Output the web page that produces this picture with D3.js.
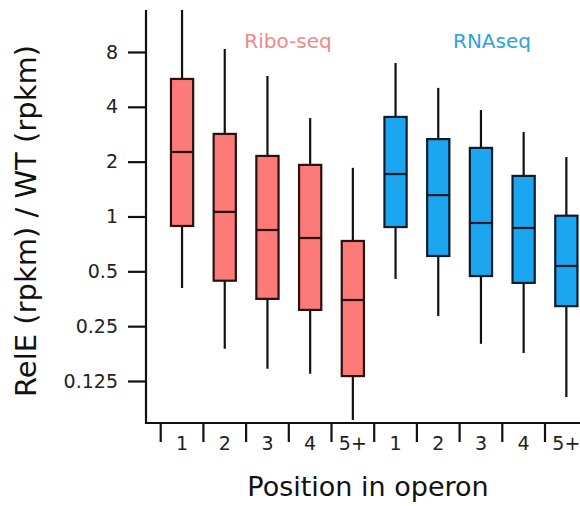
<!DOCTYPE html>
<html lang="en">

<head>
    <meta charset="UTF-8">
    <title>RelE / WT by position in operon</title>
    <script src="https://d3js.org/d3.v7.min.js"></script>
    <style>
        body {
            margin: 0;
            font-family: "DejaVu Sans", sans-serif;
            background: white;
        }
    </style>
</head>

<body>
    <svg width="580" height="506"></svg>

    <script>
        // positions in operon (same for both series)
        const positions = ["1", "2", "3", "4", "5+"];
        const yTicks = [0.125, 0.25, 0.5, 1, 2, 4, 8];

        // Ribo-seq box stats: whisker low, Q1, median, Q3, whisker high
        const riboLow = [0.405, 0.188, 0.146, 0.137, 0.0764];
        const riboQ1 = [0.887, 0.444, 0.353, 0.307, 0.133];
        const riboMedian = [2.26, 1.06, 0.843, 0.762, 0.348];
        const riboQ3 = [5.69, 2.84, 2.15, 1.92, 0.734];
        const riboHigh = [14, 8.31, 5.91, 3.47, 1.85];

        // RNAseq box stats
        const rnaLow = [0.454, 0.284, 0.200, 0.178, 0.102];
        const rnaQ1 = [0.875, 0.607, 0.471, 0.432, 0.322];
        const rnaMedian = [1.71, 1.31, 0.921, 0.865, 0.535];
        const rnaQ3 = [3.52, 2.66, 2.38, 1.67, 1.01];
        const rnaHigh = [6.96, 5.08, 3.84, 2.91, 2.12];

        const series = [
            { name: "Ribo-seq", key: "ribo", fill: "#fc7a77", stroke: "#2a1010", text: "#f2878b",
              low: riboLow, q1: riboQ1, med: riboMedian, q3: riboQ3, high: riboHigh },
            { name: "RNAseq", key: "rna", fill: "#1ba6ef", stroke: "#0c1c2c", text: "#2aa3dd",
              low: rnaLow, q1: rnaQ1, med: rnaMedian, q3: rnaQ3, high: rnaHigh }
        ];

        // flatten into one row per box
        const boxes = [];
        series.forEach(s => {
            positions.forEach((p, i) => {
                boxes.push({
                    id: s.key + p, label: p, s: s,
                    low: s.low[i], q1: s.q1[i], med: s.med[i], q3: s.q3[i], high: s.high[i]
                });
            });
        });

        const svg = d3.select("svg");
        const axisX = 146, axisTop = 10, axisBottom = 423;

        const x = d3.scaleBand()
            .domain(boxes.map(d => d.id))
            .range([160.7, 160.7 + 42.7 * boxes.length])
            .padding(0);

        const y = d3.scaleLog().base(2)
            .domain([0.0735, 13.6])
            .range([axisBottom, axisTop]);

        const plot = svg.append("g");
        const boxW = x.bandwidth() * 0.52;

        // clip so whiskers don't run past the axis top
        svg.append("clipPath").attr("id", "clip")
            .append("rect").attr("x", axisX).attr("y", axisTop)
            .attr("width", 600).attr("height", axisBottom - axisTop);
        plot.attr("clip-path", "url(#clip)");

        const g = plot.selectAll(".box")
            .data(boxes)
            .enter().append("g")
            .attr("class", "box")
            .attr("transform", d => `translate(${x(d.id) + x.bandwidth() / 2},0)`);

        // whiskers
        g.append("line")
            .attr("y1", d => y(d.low))
            .attr("y2", d => y(d.high))
            .attr("stroke", "#111")
            .attr("stroke-width", 2.2);

        // boxes
        g.append("rect")
            .attr("x", -boxW / 2)
            .attr("width", boxW)
            .attr("y", d => y(d.q3))
            .attr("height", d => y(d.q1) - y(d.q3))
            .attr("fill", d => d.s.fill)
            .attr("stroke", d => d.s.stroke)
            .attr("stroke-width", 2.2);

        // medians
        g.append("line")
            .attr("x1", -boxW / 2)
            .attr("x2", boxW / 2)
            .attr("y1", d => y(d.med))
            .attr("y2", d => y(d.med))
            .attr("stroke", d => d.s.stroke)
            .attr("stroke-width", 2.2);

        // y axis
        const yAxis = svg.append("g")
            .attr("transform", `translate(${axisX},0)`)
            .call(d3.axisLeft(y).tickValues(yTicks).tickFormat(d => String(d))
                .tickSize(18).tickPadding(10).tickSizeOuter(0));
        yAxis.select(".domain").remove();
        yAxis.selectAll("line").attr("stroke", "#111").attr("stroke-width", 2.2);
        yAxis.selectAll("text")
            .style("font-family", "DejaVu Sans, sans-serif")
            .style("font-size", "19px")
            .attr("fill", "#222");

        svg.append("line")
            .attr("x1", axisX).attr("x2", axisX)
            .attr("y1", axisTop).attr("y2", axisBottom + 1)
            .attr("stroke", "#111").attr("stroke-width", 2.2);

        // x axis: labels centred, ticks on box boundaries
        const xAxis = svg.append("g")
            .attr("transform", `translate(0,${axisBottom})`)
            .call(d3.axisBottom(x).tickFormat(id => boxes.find(b => b.id === id).label)
                .tickSize(0).tickPadding(14));
        xAxis.select(".domain").remove();
        xAxis.selectAll("text")
            .style("font-family", "DejaVu Sans, sans-serif")
            .style("font-size", "19px")
            .attr("fill", "#222");

        svg.append("g").selectAll("line")
            .data(boxes)
            .enter().append("line")
            .attr("x1", d => x(d.id)).attr("x2", d => x(d.id))
            .attr("y1", axisBottom).attr("y2", axisBottom + 19)
            .attr("stroke", "#111").attr("stroke-width", 2.2);

        svg.append("line")
            .attr("x1", axisX - 1).attr("x2", 580)
            .attr("y1", axisBottom).attr("y2", axisBottom)
            .attr("stroke", "#111").attr("stroke-width", 2.2);

        // series labels
        svg.selectAll(".series-label")
            .data(series)
            .enter().append("text")
            .attr("class", "series-label")
            .attr("x", (d, i) => i === 0 ? 288 : 492)
            .attr("y", 48)
            .attr("text-anchor", "middle")
            .attr("font-size", "20px")
            .attr("fill", d => d.text)
            .text(d => d.name);

        // axis titles
        svg.append("text")
            .attr("x", 368)
            .attr("y", 496)
            .attr("text-anchor", "middle")
            .attr("font-size", "27px")
            .attr("fill", "#111")
            .text("Position in operon");

        svg.append("text")
            .attr("transform", "translate(36,221) rotate(-90)")
            .attr("text-anchor", "middle")
            .attr("font-size", "29px")
            .attr("fill", "#111")
            .text("RelE (rpkm) / WT (rpkm)");
    </script>
</body>

</html>
